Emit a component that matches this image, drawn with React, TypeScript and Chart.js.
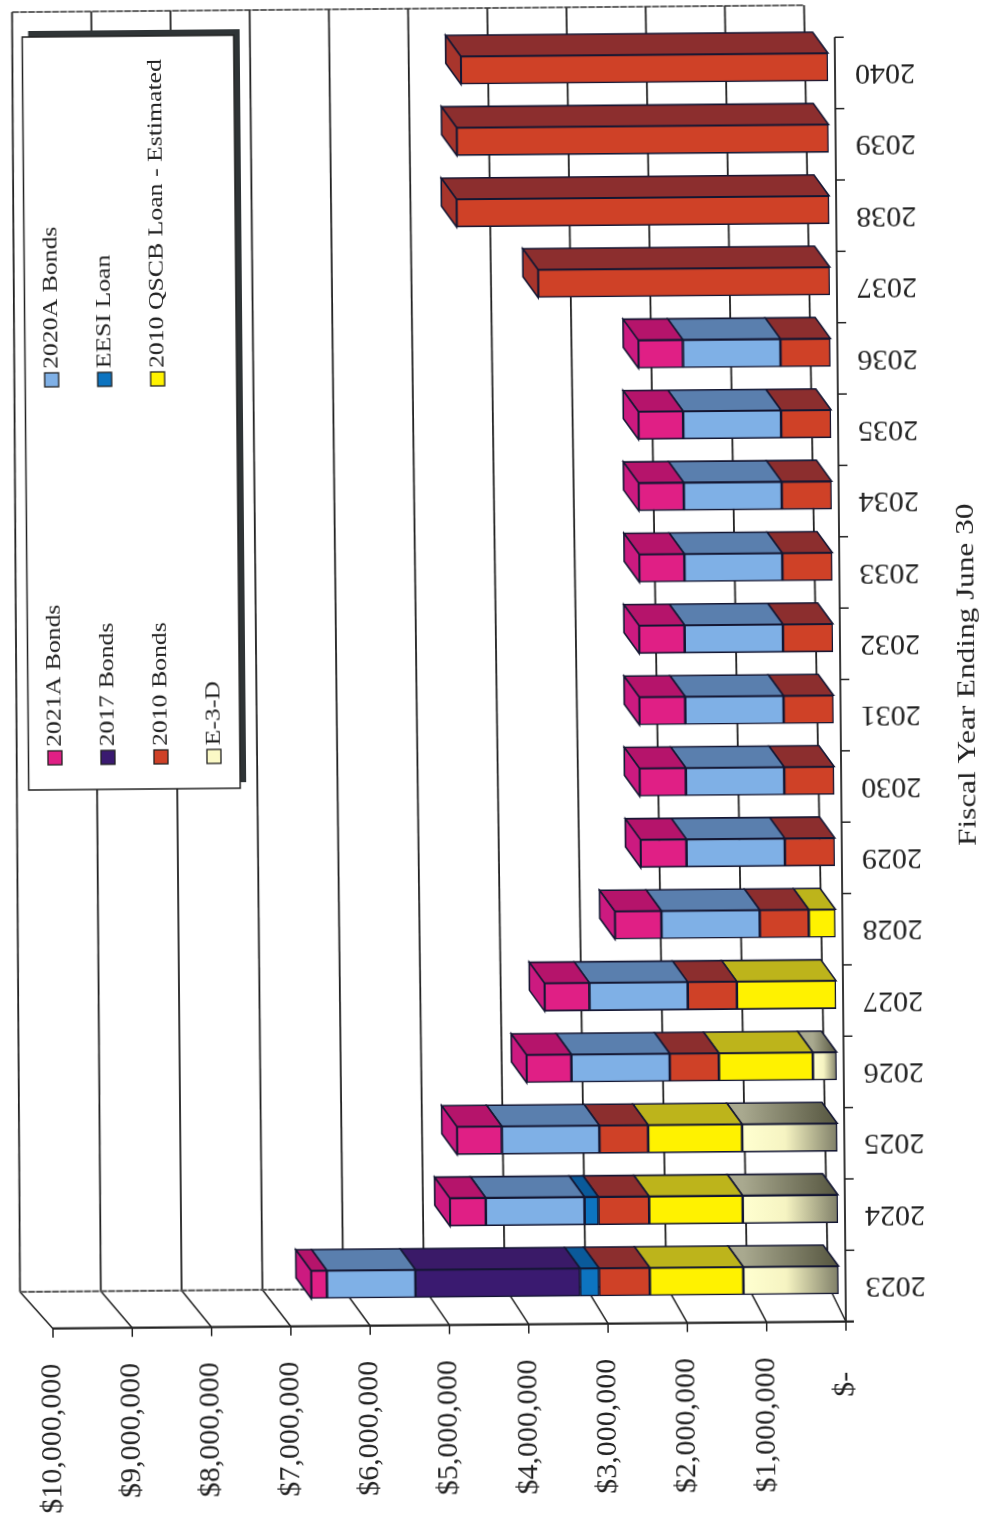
import React, { useEffect, useRef } from "react";
import { Chart, registerables } from "chart.js";

Chart.register(...registerables);

// Debt service by fiscal year, in dollars
const fiscalYears = ["2023","2024","2025","2026","2027","2028","2029","2030","2031","2032","2033","2034","2035","2036","2037","2038","2039","2040"];
const e3d = [1200000,1200000,1200000,300000,null,null,null,null,null,null,null,null,null,null,null,null,null,null];
const qscb2010 = [1180000,1180000,1185000,1185000,1250000,336000,null,null,null,null,null,null,null,null,null,null,null,null];
const bonds2010 = [640000,640000,615000,620000,620000,618000,630000,630000,630000,630000,630000,630000,630000,630000,3680000,4700000,4690000,4630000];
const eesiLoan = [240000,175000,null,null,null,null,null,null,null,null,null,null,null,null,null,null,null,null];
const bonds2017 = [2075000,null,null,null,null,null,null,null,null,null,null,null,null,null,null,null,null,null];
const bonds2020A = [1117000,1245000,1230000,1240000,1240000,1240000,1240000,1240000,1240000,1240000,1235000,1235000,1235000,1230000,null,null,null,null];
const bonds2021A = [200000,454000,567000,567000,567000,588000,580000,585000,580000,575000,570000,570000,565000,563000,null,null,null,null];

const valueTicks = [0,1000000,2000000,3000000,4000000,5000000,6000000,7000000,8000000,9000000,10000000];
const axisTitle = "Fiscal Year Ending June 30";

const seriesNames = ["E-3-D","2010 QSCB Loan - Estimated","2010 Bonds","EESI Loan","2017 Bonds","2020A Bonds","2021A Bonds"];
const frontColors = ["#FBF9C6","#FFF200","#CF4127","#0D74C0","#3A1A70","#7FB0E6","#E01F85"];
const topColors = ["#8E8E74","#BDB41B","#8C2E2E","#0A5A9A","#3A1A68","#5A7FAE","#B5146B"];
const sideColors = ["#8E8E74","#BDB41B","#A8352C","#0A5A9A","#3A1A68","#5A7FAE","#CC1A80"];

// Legend columns, top entry first in each pair of slots
const legendLowerRow = ["2021A Bonds","2017 Bonds","2010 Bonds","E-3-D"];
const legendUpperRow = ["2020A Bonds","EESI Loan","2010 QSCB Loan - Estimated"];

const SERIF = '"Liberation Serif"';
const INK = "#141733";
const LINE = "#222";
const DEPTH_X = -15;
const DEPTH_Y = -21;

function rotatedText(ctx: any, text: string, x: number, y: number, size: number, stretch: number) {
  ctx.save();
  ctx.translate(x, y);
  ctx.rotate(-Math.PI / 2);
  ctx.scale(stretch, 1);
  ctx.font = `${size}px ${SERIF}`;
  ctx.fillStyle = "#222";
  ctx.textAlign = "left";
  ctx.textBaseline = "middle";
  ctx.fillText(text, 0, 0);
  ctx.restore();
}

function poly(ctx: any, pts: number[][], fill: any) {
  ctx.beginPath();
  pts.forEach((p, i) => (i ? ctx.lineTo(p[0], p[1]) : ctx.moveTo(p[0], p[1])));
  ctx.closePath();
  ctx.fillStyle = fill;
  ctx.fill();
  ctx.lineWidth = 1.6;
  ctx.strokeStyle = INK;
  ctx.stroke();
}

function seg(ctx: any, x1: number, y1: number, x2: number, y2: number, w = 1.8, color = LINE) {
  ctx.beginPath();
  ctx.moveTo(x1, y1);
  ctx.lineTo(x2, y2);
  ctx.lineWidth = w;
  ctx.strokeStyle = color;
  ctx.stroke();
}

// Back wall, floor and the axis lines of the three-dimensional frame
const framePlugin = {
  id: "frame3d",
  beforeDatasetsDraw(chart: any) {
    const { ctx, scales, chartArea } = chart;
    const xs = scales.x;
    const zeroPx = xs.getPixelForValue(0);
    const frontY = chartArea.bottom + 6;
    const wallBottomY = frontY - 37;
    const wallTopY = 8;
    const frontX = (p: number) => p + 7;
    const wallBottomX = (p: number) => 823.4 + (p - zeroPx) * (808 / 793);
    const wallTopX = (p: number) => 810.6 + (p - zeroPx) * (792 / 793);
    ctx.save();
    valueTicks.forEach((v) => {
      const p = xs.getPixelForValue(v);
      seg(ctx, wallBottomX(p), wallBottomY, wallTopX(p), wallTopY);
      seg(ctx, frontX(p), frontY, wallBottomX(p), wallBottomY, 1.5);
      seg(ctx, frontX(p), frontY, frontX(p), frontY + 9, 1.5);
    });
    const left = xs.getPixelForValue(10000000);
    ctx.setLineDash([7, 1]);
    seg(ctx, wallTopX(left), wallTopY, wallTopX(zeroPx), wallTopY, 1.6, "#333");
    seg(ctx, wallBottomX(left), wallBottomY, wallBottomX(zeroPx), wallBottomY, 2, "#555");
    ctx.setLineDash([]);
    seg(ctx, frontX(left), frontY, frontX(zeroPx) + 8, frontY, 2.2, "#222");
    // Vertical category axis with its band ticks
    const ys = scales.y;
    const band = chartArea.height / fiscalYears.length;
    seg(ctx, frontX(zeroPx), chartArea.top + 6, frontX(zeroPx), frontY, 1.8, "#222");
    fiscalYears.forEach((_, i) => {
      const y = ys.getPixelForValue(i) - band / 2 + 6;
      seg(ctx, frontX(zeroPx), y, frontX(zeroPx) + 9, y, 1.5);
    });
    ctx.restore();
  },
};

// Top and end faces behind each native bar rectangle
const depthPlugin = {
  id: "barDepth",
  beforeDatasetsDraw(chart: any) {
    const { ctx } = chart;
    ctx.save();
    fiscalYears.forEach((_, j) => {
      let last = -1;
      chart.data.datasets.forEach((ds: any, i: number) => {
        const el = chart.getDatasetMeta(i).data[j];
        if (ds.data[j] == null || !el) return;
        last = i;
        const top = el.y - el.height / 2;
        let fill: any = topColors[i];
        if (i === 0) {
          const g = ctx.createLinearGradient(el.x, 0, el.base, 0);
          g.addColorStop(0, "#A9A98F");
          g.addColorStop(1, "#55553F");
          fill = g;
        }
        poly(ctx, [[el.x, top],[el.base, top],[el.base + DEPTH_X, top + DEPTH_Y],[el.x + DEPTH_X, top + DEPTH_Y]], fill);
      });
      if (last >= 0) {
        const el = chart.getDatasetMeta(last).data[j];
        const top = el.y - el.height / 2;
        const bottom = el.y + el.height / 2;
        poly(ctx, [[el.x, top],[el.x, bottom],[el.x + DEPTH_X, bottom + DEPTH_Y],[el.x + DEPTH_X, top + DEPTH_Y]], sideColors[last]);
      }
    });
    ctx.restore();
  },
};

// Legend box and the rotated captions beside the chart
const annotationPlugin = {
  id: "rotatedLegend",
  afterDraw(chart: any) {
    const { ctx } = chart;
    const box = { l: 28.5, t: 33, r: 240, b: 786 };
    ctx.save();
    ctx.fillStyle = "#2f3436";
    ctx.fillRect(box.l + 6, box.t - 6, box.r - box.l, box.b - box.t);
    ctx.fillStyle = "#fff";
    ctx.fillRect(box.l, box.t, box.r - box.l, box.b - box.t);
    ctx.strokeStyle = "#222";
    ctx.lineWidth = 1.5;
    ctx.strokeRect(box.l, box.t, box.r - box.l, box.b - box.t);
    const columns = [55, 108, 161, 214];
    const drawEntry = (name: string, col: number, swatchY: number) => {
      const idx = seriesNames.indexOf(name);
      ctx.fillStyle = frontColors[idx];
      ctx.strokeStyle = "#222";
      ctx.lineWidth = 1.3;
      ctx.fillRect(columns[col] - 7, swatchY - 7, 14, 14);
      ctx.strokeRect(columns[col] - 7, swatchY - 7, 14, 14);
      rotatedText(ctx, name, columns[col], swatchY - 11, 22, 1.17);
    };
    legendLowerRow.forEach((n, c) => drawEntry(n, c, 754));
    legendUpperRow.forEach((n, c) => drawEntry(n, c, 376));
    rotatedText(ctx, axisTitle, 968, 850, 25, 1.25);
    ctx.restore();
  },
};

// Scale padding would otherwise push the chart area away from the configured layout
const clearPadding = (s: any) => {
  s.paddingTop = 0;
  s.paddingBottom = 0;
  s.paddingLeft = 0;
  s.paddingRight = 0;
};

export default function App() {
  const ref = useRef<HTMLCanvasElement>(null);
  useEffect(() => {
    const series = [e3d, qscb2010, bonds2010, eesiLoan, bonds2017, bonds2020A, bonds2021A];
    const chart = new Chart(ref.current as HTMLCanvasElement, {
      type: "bar",
      data: {
        labels: fiscalYears,
        datasets: series.map((data, i) => ({
          label: seriesNames[i],
          data,
          stack: "debt",
          barThickness: 28,
          borderWidth: 1.6,
          borderColor: INK,
          borderSkipped: false,
          backgroundColor:
            i === 0
              ? (c: any) => {
                  const xs = c.chart.scales.x;
                  const from = c.raw == null || !xs ? NaN : xs.getPixelForValue(c.raw);
                  const to = xs ? xs.getPixelForValue(0) : NaN;
                  if (!Number.isFinite(from) || !Number.isFinite(to)) return frontColors[0];
                  const g = c.chart.ctx.createLinearGradient(from, 0, to, 0);
                  g.addColorStop(0, "#FFFFD0");
                  g.addColorStop(0.45, "#F6F4C2");
                  g.addColorStop(1, "#7F7F68");
                  return g;
                }
              : frontColors[i],
        })) as any,
      },
      options: {
        indexAxis: "y",
        responsive: false,
        animation: false,
        devicePixelRatio: 1,
        layout: { autoPadding: false, padding: { left: 41, top: 34.3, right: 0, bottom: 0 } },
        plugins: { legend: { display: false }, title: { display: false }, tooltip: { enabled: false } },
        scales: {
          x: {
            type: "linear",
            reverse: true,
            stacked: true,
            min: 0,
            max: 10000000,
            position: "bottom",
            border: { display: false },
            grid: { display: false, drawTicks: false },
            afterFit: (s: any) => { s.height = 202.3; clearPadding(s); },
            afterBuildTicks: (s: any) => { s.ticks = valueTicks.map((value) => ({ value })); },
            ticks: {
              autoSkip: false,
              minRotation: 90,
              maxRotation: 90,
              padding: 41,
              labelOffset: 6,
              color: "#222",
              font: { family: SERIF, size: 30 },
              callback: (v: any) => (v === 0 ? "$-  " : "$" + Number(v).toLocaleString("en-US")),
            },
          },
          y: {
            type: "category",
            reverse: true,
            stacked: true,
            position: "right",
            border: { display: false },
            grid: { display: false, drawTicks: false },
            afterFit: (s: any) => { s.width = 152; clearPadding(s); },
            ticks: {
              autoSkip: false,
              minRotation: 180,
              maxRotation: 180,
              padding: 87,
              labelOffset: 6,
              crossAlign: "near",
              color: "#222",
              font: { family: SERIF, size: 30 },
            },
          },
        },
      } as any,
      plugins: [framePlugin, depthPlugin, annotationPlugin],
    });
    return () => chart.destroy();
  }, []);
  return (
    <div style={{ position: "absolute", left: 0, top: 0, width: 986, height: 1521, overflow: "hidden", background: "#fff" }}>
      <canvas ref={ref} width={986} height={1521} style={{ display: "block", transform: "rotate(-0.5deg)", transformOrigin: "493px 760px" }} />
    </div>
  );
}
